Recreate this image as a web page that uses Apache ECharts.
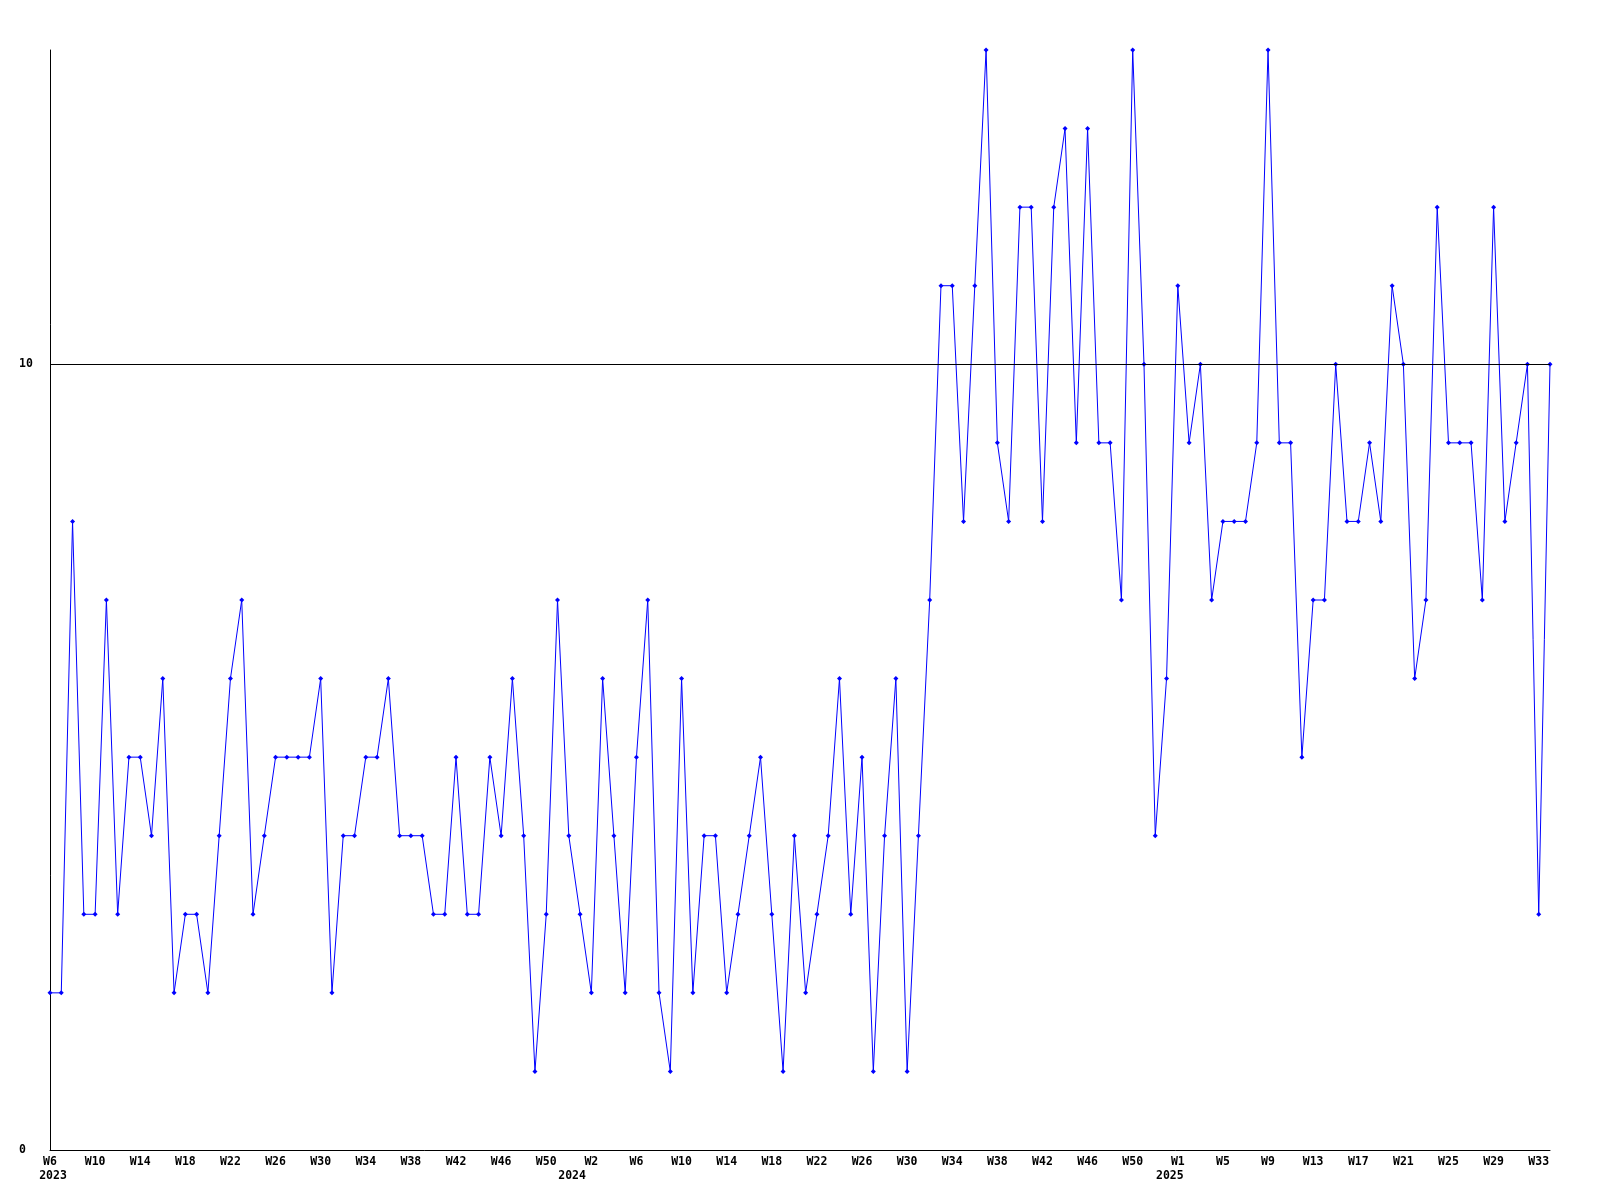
<!DOCTYPE html>
<html>
<head>
<meta charset="utf-8">
<script src="https://cdn.jsdelivr.net/npm/echarts@6/dist/echarts.min.js"></script>
<style>
html,body{margin:0;padding:0;background:#fff;}
#chart{width:1600px;height:1200px;}
</style>
</head>
<body>
<div id="chart"></div>
<script>
// Week labels per year
const weeks2023 = ['W6','W7','W8','W9','W10','W11','W12','W13','W14','W15','W16','W17','W18','W19','W20','W21','W22','W23','W24','W25','W26','W27','W28','W29','W30','W31','W32','W33','W34','W35','W36','W37','W38','W39','W40','W41','W42','W43','W44','W45','W46','W47','W48','W49','W50','W51','W52'];
const weeks2024 = ['W1','W2','W3','W4','W5','W6','W7','W8','W9','W10','W11','W12','W13','W14','W15','W16','W17','W18','W19','W20','W21','W22','W23','W24','W25','W26','W27','W28','W29','W30','W31','W32','W33','W34','W35','W36','W37','W38','W39','W40','W41','W42','W43','W44','W45','W46','W47','W48','W49','W50','W51','W52','W53'];
const weeks2025 = ['W1','W2','W3','W4','W5','W6','W7','W8','W9','W10','W11','W12','W13','W14','W15','W16','W17','W18','W19','W20','W21','W22','W23','W24','W25','W26','W27','W28','W29','W30','W31','W32','W33','W34'];

// Weekly values per year
const values2023 = [2,2,8,3,3,7,3,5,5,4,6,2,3,3,2,4,6,7,3,4,5,5,5,5,6,2,4,4,5,5,6,4,4,4,3,3,5,3,3,5,4,6,4,1,3,7,4];
const values2024 = [3,2,6,4,2,5,7,2,1,6,2,4,4,2,3,4,5,3,1,4,2,3,4,6,3,5,1,4,6,1,4,7,11,11,8,11,14,9,8,12,12,8,12,13,9,13,9,9,7,14,10,4,6];
const values2025 = [11,9,10,7,8,8,8,9,14,9,9,5,7,7,10,8,8,9,8,11,10,6,7,12,9,9,9,7,12,8,9,10,3,10];

const yearNames = ['2023','2024','2025'];
const yTickLabels = [0, 10];
const refLine = 10;
const yMax = 14;

const categories = weeks2023.concat(weeks2024, weeks2025);
const values = values2023.concat(values2024, values2025);
const yearStart = {};
yearStart[0] = {text: yearNames[0], style: 'ya'};
yearStart[weeks2023.length] = {text: yearNames[1], style: 'yb'};
yearStart[weeks2023.length + weeks2024.length] = {text: yearNames[2], style: 'yb'};

const FONT = 'DejaVu Sans Mono';
const labelFont = {color: '#000', fontFamily: FONT, fontWeight: 'bold', fontSize: 11.5, lineHeight: 14};

const chart = echarts.init(document.getElementById('chart'), null, {renderer:'canvas'});
chart.setOption({
  backgroundColor: '#ffffff',
  animation: false,
  grid: {left: 50, right: 50, top: 50, bottom: 50, containLabel: false},
  xAxis: {
    type: 'category',
    data: categories,
    boundaryGap: false,
    axisLine: {show: true, lineStyle: {color: '#000', width: 1}},
    axisTick: {show: false},
    splitLine: {show: false},
    axisLabel: Object.assign({
      interval: 0,
      margin: 5,
      formatter: function (val, idx) {
        const wk = (idx % 4 === 0) ? val : '';
        const yr = yearStart[idx];
        if (yr !== undefined) return wk + '\n{' + yr.style + '|' + yr.text + '}';
        return wk;
      },
      rich: {
        ya: Object.assign({padding: [0, 0, 0, 6]}, labelFont),
        yb: Object.assign({padding: [0, 16, 0, 0]}, labelFont)
      }
    }, labelFont)
  },
  yAxis: {
    type: 'value',
    min: 0,
    max: yMax,
    interval: 10,
    axisLine: {show: true, lineStyle: {color: '#000', width: 1}},
    axisTick: {show: false},
    splitLine: {show: false},
    axisLabel: {
      showMaxLabel: false,
      align: 'left',
      margin: 31,
      color: '#000',
      fontFamily: FONT,
      fontWeight: 'bold',
      fontSize: 11.5,
      formatter: function (v) { return yTickLabels.indexOf(v) >= 0 ? String(v) : ''; }
    }
  },
  series: [{
    type: 'line',
    data: values,
    symbol: 'diamond',
    symbolSize: 5,
    showSymbol: true,
    itemStyle: {color: '#0000ff'},
    lineStyle: {color: '#0000ff', width: 1},
    markLine: {
      silent: true,
      symbol: ['none','none'],
      label: {show: false},
      lineStyle: {color: '#000', width: 1, type: 'solid'},
      data: [{yAxis: refLine}]
    }
  }]
});
</script>
</body>
</html>
